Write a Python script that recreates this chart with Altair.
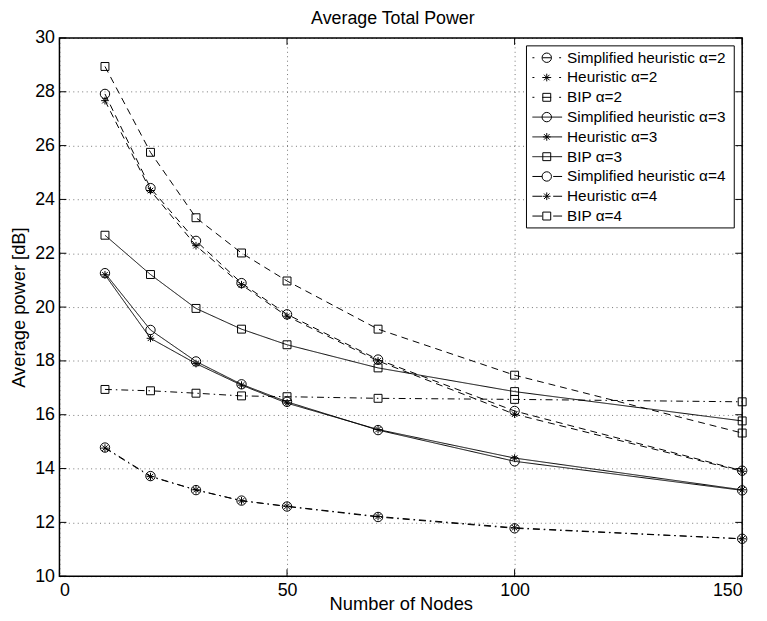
import altair as alt
import pandas as pd

# ---------------- data ----------------
nodes = [10, 20, 30, 40, 50, 70, 100, 150]

simp2 = [14.78, 13.72, 13.20, 12.81, 12.59, 12.20, 11.78, 11.39]
heur2 = [14.76, 13.70, 13.21, 12.80, 12.60, 12.22, 11.80, 11.39]
bip2 = [16.94, 16.89, 16.80, 16.70, 16.67, 16.61, 16.57, 16.48]
simp3 = [21.26, 19.15, 17.98, 17.13, 16.48, 15.43, 14.27, 13.19]
heur3 = [21.20, 18.84, 17.90, 17.10, 16.43, 15.45, 14.39, 13.21]
bip3 = [22.67, 21.21, 19.95, 19.18, 18.60, 17.74, 16.86, 15.77]
simp4 = [27.92, 24.42, 22.46, 20.89, 19.73, 18.05, 16.14, 13.92]
heur4 = [27.67, 24.33, 22.28, 20.83, 19.66, 18.00, 16.02, 13.90]
bip4 = [28.94, 25.75, 23.32, 22.01, 20.97, 19.18, 17.47, 15.32]

series_names = ["Simplified heuristic \u03b1=2", "Heuristic \u03b1=2", "BIP \u03b1=2",
                "Simplified heuristic \u03b1=3", "Heuristic \u03b1=3", " BIP \u03b1=3",
                "Simplified heuristic \u03b1=4", "Heuristic \u03b1=4", "BIP \u03b1=4"]
series_values = [simp2, heur2, bip2, simp3, heur3, bip3, simp4, heur4, bip4]
series_style = ["a2", "a2", "a2", "a3", "a3", "a3", "a4", "a4", "a4"]
series_marker = ["circle", "star", "square"] * 3

x_ticks = [0, 50, 100, 150]
y_ticks = [10, 12, 14, 16, 18, 20, 22, 24, 26, 28, 30]

# ---------------- tables ----------------
rows = []
for name, vals, st, mk in zip(series_names, series_values, series_style, series_marker):
    for n, v in zip(nodes, vals):
        rows.append({"series": name, "nodes": n, "power": v, "style": st, "marker": mk})
df = pd.DataFrame(rows)

leg = pd.DataFrame({"label": series_names, "row": list(range(len(series_names))),
                    "lstyle": series_style, "marker": series_marker})

W, H = 690, 544
FONT = "Liberation Sans"
ASTERISK = "M-1,0L1,0M0,-1L0,1M-0.72,-0.72L0.72,0.72M-0.72,0.72L0.72,-0.72"

dash_scale = alt.Scale(domain=["a2", "a3", "a4"], range=[[7, 4, 1.5, 4], [1, 0], [7, 5]])
leg_dash_scale = alt.Scale(domain=["a2", "a3", "a4"],
                           range=[[2, 8, 9, 8, 2, 20], [1, 0], [10, 11, 10, 20]])
xs = alt.Scale(domain=[0, 150], nice=False, zero=False)
ys = alt.Scale(domain=[10, 30], nice=False, zero=False)

X_AXIS = alt.Axis(values=x_ticks, title="Number of Nodes", grid=True, ticks=False,
                  domain=False, labelPadding=6, titleY=19, titleBaseline="top", format="d")
X = alt.X("nodes:Q", scale=xs, axis=X_AXIS)
Y = alt.Y("power:Q", scale=ys,
          axis=alt.Axis(values=y_ticks, title="Average power [dB]", grid=True, ticks=False,
                        domain=False, labelPadding=5, titlePadding=6, format="d"))
Y_plain = alt.Y("power:Q", scale=ys, axis=None)

base = alt.Chart(df)
lines = base.mark_line(color="black", strokeWidth=1).encode(
    x=X, y=Y, detail="series:N",
    strokeDash=alt.StrokeDash("style:N", scale=dash_scale, legend=None))

def pts(marker, shape, size):
    return base.transform_filter(alt.datum.marker == marker).mark_point(
        shape=shape, size=size, filled=False, color="black", strokeWidth=1, opacity=1
    ).encode(x=X, y=Y_plain)

p_c = pts("circle", "circle", 90)
p_s = pts("star", ASTERISK, 60)
p_q = pts("square", "square", 64)

# inward ticks (MATLAB style)
tx = pd.DataFrame({"nodes": x_ticks})
ty = pd.DataFrame({"t": y_ticks})
TY = alt.Y("t:Q", scale=ys, axis=None)
tick_b = alt.Chart(tx).mark_rule(color="black", strokeWidth=1).encode(
    x=X, y=alt.value(H), y2=alt.value(H - 7))
tick_t = alt.Chart(tx).mark_rule(color="black", strokeWidth=1).encode(
    x=X, y=alt.value(0), y2=alt.value(7))
tick_l = alt.Chart(ty).mark_rule(color="black", strokeWidth=1).encode(
    y=TY, x=alt.value(0), x2=alt.value(7))
tick_r = alt.Chart(ty).mark_rule(color="black", strokeWidth=1).encode(
    y=TY, x=alt.value(W), x2=alt.value(W - 7))

# manual legend (MATLAB style box)
box = alt.Chart(pd.DataFrame({"a": [0]})).mark_rect(
    fill="white", stroke="black", strokeWidth=1).encode(
    x=alt.value(472), x2=alt.value(682), y=alt.value(8), y2=alt.value(192))

LY = alt.Y("row:O", scale=alt.Scale(type="point", domain=list(range(9)), range=[20, 180], padding=0),
           axis=None)
lb = alt.Chart(leg)
leg_lines = lb.mark_rule(color="black", strokeWidth=1).encode(
    x=alt.value(478), x2=alt.value(508), y=LY,
    strokeDash=alt.StrokeDash("lstyle:N", scale=leg_dash_scale, legend=None))

def lpts(marker, shape, size):
    return lb.transform_filter(alt.datum.marker == marker).mark_point(
        shape=shape, size=size, filled=False, color="black", strokeWidth=1, opacity=1
    ).encode(x=alt.value(492.5), y=LY)

leg_text = lb.mark_text(align="left", baseline="middle", font=FONT, fontSize=15.5,
                        color="black").encode(x=alt.value(513), y=LY, text="label:N")

chart = alt.layer(
    lines, p_c, p_s, p_q, tick_b, tick_t, tick_l, tick_r,
    box, leg_lines, lpts("circle", "circle", 90), lpts("star", ASTERISK, 60),
    lpts("square", "square", 64), leg_text
).resolve_scale(y="independent", strokeDash="independent").properties(
    width=W, height=H,
    title=alt.TitleParams("Average Total Power", font=FONT, fontSize=18, fontWeight="normal",
                          color="black", anchor="middle", offset=1, dx=-8),
    padding={"left": 52, "top": 27, "right": 17, "bottom": 42},
    autosize="none",
).configure_view(stroke="black", strokeWidth=1.5).configure_axis(
    labelFont=FONT, titleFont=FONT, labelFontSize=18, titleFontSize=18.5,
    labelColor="black", titleColor="black", titleFontWeight="normal",
    gridColor="black", gridOpacity=0.55, gridDash=[1, 3.5], gridWidth=1
)

chart.save("out.html", embed_options={"renderer": "svg", "actions": False})
